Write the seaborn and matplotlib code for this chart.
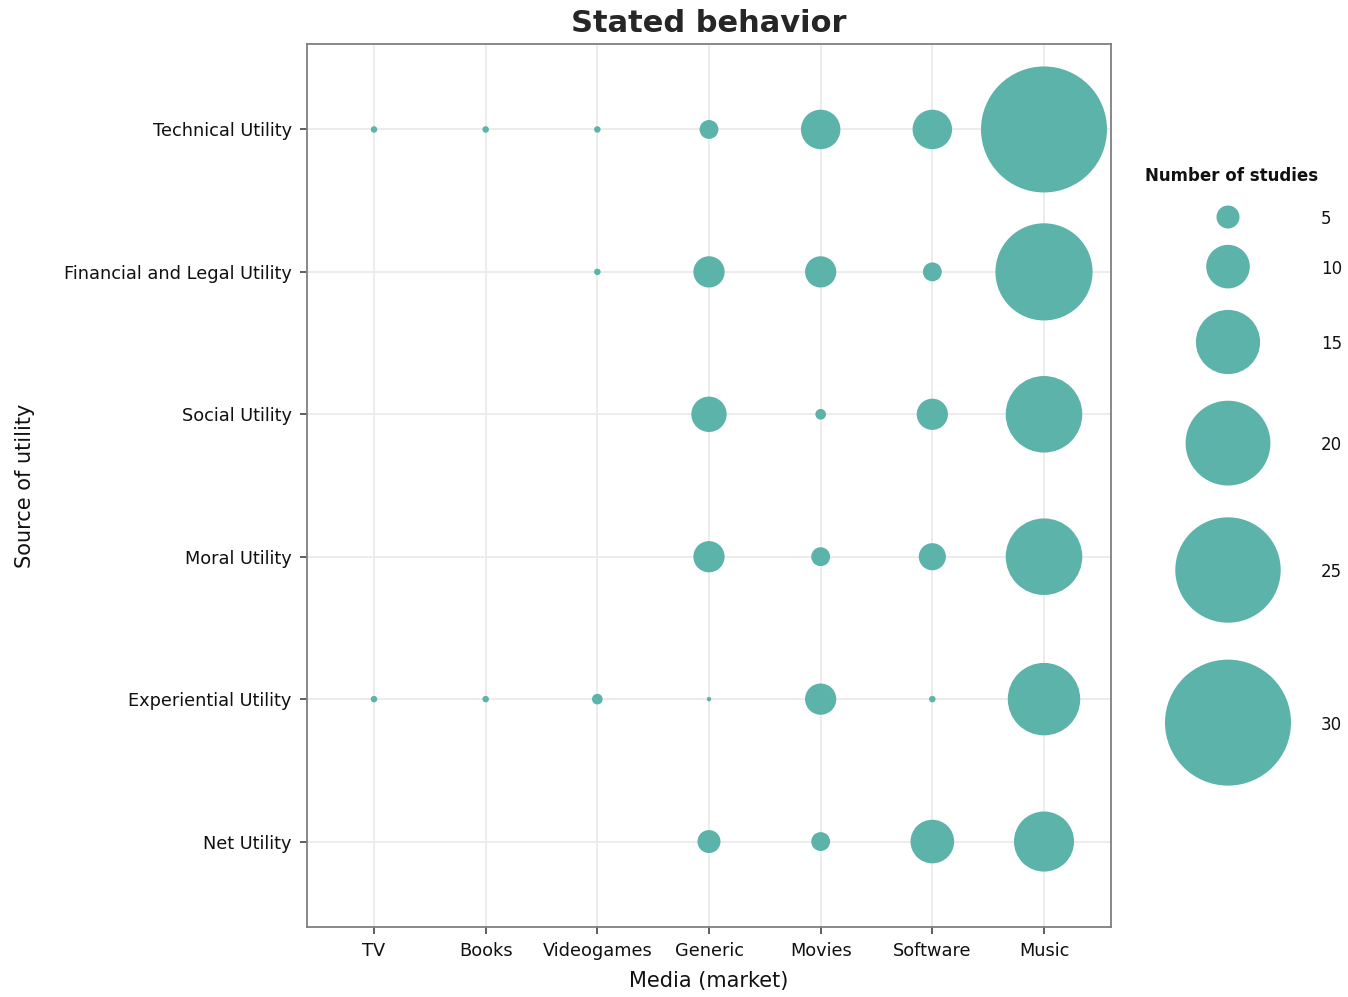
import pandas as pd
import matplotlib.pyplot as plt
import seaborn as sns

# categories
media = ['TV', 'Books', 'Videogames', 'Generic', 'Movies', 'Software', 'Music']
utility = ['Technical Utility', 'Financial and Legal Utility', 'Social Utility',
           'Moral Utility', 'Experiential Utility', 'Net Utility']

# number of studies per media, one list per source of utility (None = no dot)
technical = [1, 1, 1, 4, 9, 9, 30]
financial = [None, None, 1, 7, 7, 4, 23]
social = [None, None, None, 8, 2, 7, 18]
moral = [None, None, None, 7, 4, 6, 18]
experiential = [1, 1, 2, 0.5, 7, 1, 17]
net = [None, None, None, 5, 4, 10, 14]

legend_values = [5, 10, 15, 20, 25, 30]

rows = []
for name, vals in zip(utility, [technical, financial, social, moral, experiential, net]):
    for m, v in zip(media, vals):
        if v is not None:
            rows.append({'utility': name, 'media': m, 'studies': v})
df = pd.DataFrame(rows)


def diam_px(v):
    # bubble diameter grows linearly with the count
    return 4.12 * v + 2.4


def area(v):
    return (diam_px(v) * 72 / 100) ** 2


sizes = {v: area(v) for v in set(df['studies']) | set(legend_values)}

sns.set_style('white')
plt.rcParams['font.family'] = ['DejaVu Sans']

W, H = 1348, 997
fig = plt.figure(figsize=(W / 100, H / 100), dpi=100)
ax = fig.add_axes([307 / W, 1 - 927 / H, (1111 - 307) / W, (927 - 44) / H])

teal = '#5BB3A9'
sns.scatterplot(data=df, x='media', y='utility', size='studies', sizes=sizes,
                color=teal, edgecolor='none', linewidth=0, alpha=1,
                legend=False, ax=ax, zorder=3)

ax.set_xlim(-0.6, len(media) - 0.4)
ax.set_ylim(len(utility) - 0.4, -0.6)
ax.grid(True, color='#EBEBEB', linewidth=1.3)
ax.set_axisbelow(True)
for s in ax.spines.values():
    s.set_color('#7F7F7F')
    s.set_linewidth(1.3)
ax.tick_params(axis='both', length=5, width=1.1, color='#333333',
               labelsize=12.8, labelcolor='#111111', pad=6, bottom=True, left=True)
ax.set_xlabel('Media (market)', fontsize=15, color='#111111')
ax.set_ylabel('Source of utility', fontsize=15, color='#111111')
ax.xaxis.set_label_coords(0.5, (927 - 981) / (927 - 44))
ax.xaxis.label.set_va('center')
ax.yaxis.set_label_coords((25 - 307) / (1111 - 307), 0.5)
ax.yaxis.label.set_va('center')

fig.text((307 + 1111) / 2 / W, 1 - 23 / H, 'Stated behavior', ha='center', va='center',
         fontsize=22, fontweight='bold')

# legend drawn in an overlay axes using pixel units
lax = fig.add_axes([0, 0, 1, 1], zorder=-1)
ys = []
y = 217
prev = None
for v in legend_values:
    if prev is not None:
        y += 1.25 * (diam_px(prev) + diam_px(v)) / 2 + 8
    ys.append(y)
    prev = v
leg = pd.DataFrame({'x': [1228] * len(legend_values), 'y': ys, 'studies': legend_values})
sns.scatterplot(data=leg, x='x', y='y', size='studies', sizes=sizes, color=teal,
                edgecolor='none', linewidth=0, alpha=1, legend=False, ax=lax)
lax.set_xlim(0, W)
lax.set_ylim(H, 0)
lax.axis('off')
for v, yy in zip(legend_values, ys):
    lax.text(1321, yy + 2, str(v), ha='left', va='center', fontsize=12, color='#111111')
lax.text(1145, 176, 'Number of studies', ha='left', va='center', fontsize=12,
         fontweight='bold', color='#111111')

fig.savefig('out.png', dpi=100)
